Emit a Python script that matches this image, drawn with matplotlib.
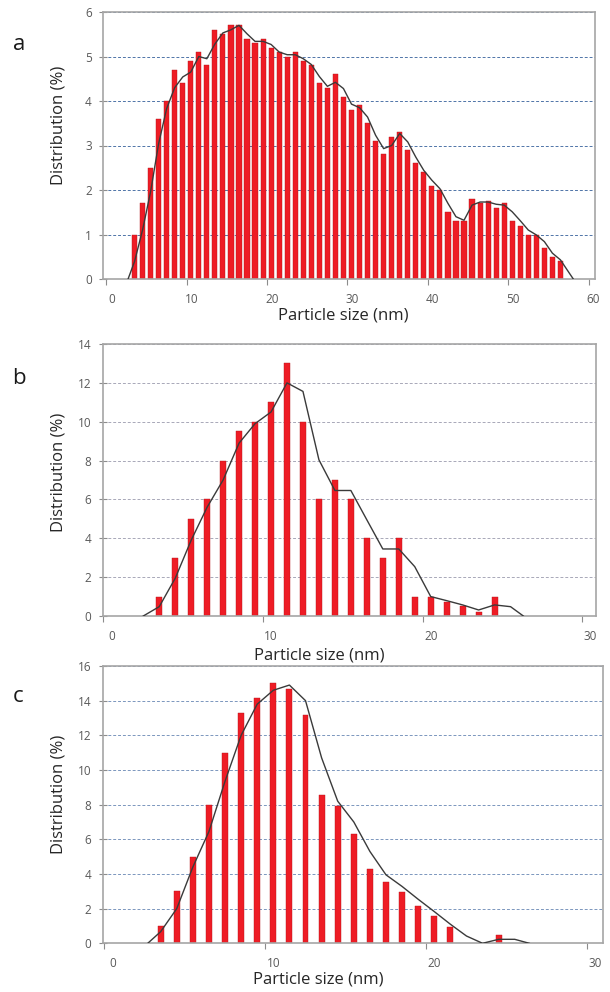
import numpy as np
import matplotlib
matplotlib.use('Agg')
import matplotlib.pyplot as plt
from matplotlib.transforms import ScaledTranslation

plt.rcParams['font.family'] = ['Open Sans', 'DejaVu Sans']

# panel a: bin centres (nm) and distribution (%)
a_size = np.arange(3.5, 57, 1.0)
a_dist = [1.0, 1.7, 2.5, 3.6, 4.0, 4.7, 4.4, 4.9, 5.1, 4.8,
          5.6, 5.5, 5.7, 5.7, 5.4, 5.3, 5.4, 5.2, 5.1, 5.0,
          5.1, 4.9, 4.8, 4.4, 4.3, 4.6, 4.1, 3.8, 3.9, 3.5,
          3.1, 2.8, 3.2, 3.3, 2.9, 2.6, 2.4, 2.1, 2.0, 1.5,
          1.3, 1.3, 1.8, 1.7, 1.75, 1.6, 1.7, 1.3, 1.2, 1.0,
          1.0, 0.7, 0.5, 0.4]
a_fit_x = [2.7] + list(np.arange(3.5, 58, 1.0)) + [58.1]
a_fit_y = [0, 0.39, 1.1, 1.96, 3.04, 3.83, 4.3, 4.54, 4.65, 5.0, 4.95,
           5.28, 5.53, 5.6, 5.7, 5.51, 5.34, 5.34, 5.27, 5.1, 5.04,
           5.04, 4.95, 4.82, 4.55, 4.33, 4.42, 4.28, 3.93, 3.85, 3.64,
           3.23, 2.93, 3.0, 3.27, 3.08, 2.74, 2.44, 2.22, 2.03, 1.7,
           1.4, 1.32, 1.66, 1.73, 1.73, 1.68, 1.66, 1.51, 1.31, 1.1,
           0.99, 0.84, 0.58, 0.43, 0.16, 0]

# panel b
b_size = np.arange(3.5, 25, 1.0)
b_dist = [1, 3, 5, 6, 8, 9.5, 10, 11, 13, 10, 6, 7, 6, 4, 3, 4,
          1, 1, 0.7, 0.5, 0.2, 1]
b_fit_x = [2.5] + list(np.arange(3.5, 26, 1.0)) + [26.3]
b_fit_y = [0, 0.48, 1.94, 3.9, 5.6, 7.0, 8.9, 9.9, 10.5, 12.0, 11.56,
           8.04, 6.46, 6.46, 4.95, 3.45, 3.45, 2.54, 1.0, 0.79, 0.57,
           0.31, 0.57, 0.48, 0]

# panel c
c_size = list(np.arange(3.5, 22, 1.0)) + [24.5]
c_dist = [1.0, 3.0, 5.0, 8.0, 11.0, 13.26, 14.16, 15.0, 14.7, 13.2,
          8.57, 7.9, 6.3, 4.3, 3.56, 2.95, 2.18, 1.58, 0.96, 0.48]
c_fit_x = [2.7] + list(np.arange(3.5, 26, 1.0)) + [26.4]
c_fit_y = [0, 0.67, 2.0, 4.4, 6.45, 9.35, 12.0, 13.8, 14.6, 14.9, 14.0,
           10.7, 8.2, 7.0, 5.3, 3.95, 3.28, 2.54, 1.83, 1.1, 0.42, 0,
           0.23, 0.23, 0]

panels = [
    dict(letter='a', x=a_size, y=a_dist, fx=a_fit_x, fy=a_fit_y, w=0.64,
         rect=[103, 12, 595, 279], xlim=(-0.42, 60.8), ylim=(0, 6), ystep=1,
         xticks=[0, 10, 20, 30, 40, 50, 60], grid='#4f74a8', shift=5,
         ylab=(58.5, 125.5), xlab=(343.5, 315), let=(19, 44)),
    dict(letter='b', x=b_size, y=b_dist, fx=b_fit_x, fy=b_fit_y, w=0.38,
         rect=[102.7, 344, 596, 616], xlim=(-0.04, 30.85), ylim=(0, 14), ystep=2,
         xticks=[0, 10, 20, 30], grid='#a8a8b8', shift=8,
         ylab=(58.5, 472.5), xlab=(319, 655), let=(19, 379)),
    dict(letter='c', x=c_size, y=c_dist, fx=c_fit_x, fy=c_fit_y, w=0.37,
         rect=[102.7, 666, 603.3, 943.3], xlim=(-0.1, 31.0), ylim=(0, 16), ystep=2,
         xticks=[0, 10, 20, 30], grid='#7b96bd', shift=8,
         ylab=(58.5, 794.5), xlab=(318, 980), let=(18, 697)),
]

W, H = 610, 992
fig = plt.figure(figsize=(W / 100, H / 100), dpi=100)

for p in panels:
    l, t, r, b = p['rect']
    ax = fig.add_axes([l / W, 1 - b / H, (r - l) / W, (b - t) / H])
    ax.bar(p['x'], p['y'], width=p['w'], color='#ee1c25',
           edgecolor='#b5141b', linewidth=0.3, zorder=2)
    ax.plot(p['fx'], p['fy'], color='#3a3a3a', linewidth=1.0, zorder=3)
    ax.set_xlim(p['xlim'])
    ax.set_ylim(p['ylim'])
    ax.set_xticks(p['xticks'])
    ax.set_yticks(np.arange(0, p['ylim'][1] + 0.1, p['ystep']))
    ax.yaxis.grid(True, color=p['grid'], linestyle=(0, (3, 2)), linewidth=0.7)
    ax.set_axisbelow(True)
    for s in ax.spines.values():
        s.set_color('#a6a6a6')
        s.set_linewidth(1.2)
    ax.tick_params(axis='y', direction='inout', length=6, width=0.8,
                   color='#8c8c8c', labelsize=8.5, labelcolor='#595959', pad=5)
    ax.tick_params(axis='x', direction='out', length=4, width=0.8,
                   color='#8c8c8c', labelsize=8.5, labelcolor='#595959', pad=6)
    off = ScaledTranslation(p['shift'] / 100, 0, fig.dpi_scale_trans)
    for lab in ax.get_xticklabels():
        lab.set_transform(lab.get_transform() + off)

    fig.text(p['ylab'][0] / W, 1 - p['ylab'][1] / H, 'Distribution (%)',
             rotation=90, ha='center', va='center', fontsize=12, color='#262626')
    fig.text(p['xlab'][0] / W, 1 - p['xlab'][1] / H, 'Particle size (nm)',
             ha='center', va='center', fontsize=12, color='#262626')
    fig.text(p['let'][0] / W, 1 - p['let'][1] / H, p['letter'],
             ha='center', va='center', fontsize=16, color='#1a1a1a')

fig.savefig('out.png', dpi=100)
